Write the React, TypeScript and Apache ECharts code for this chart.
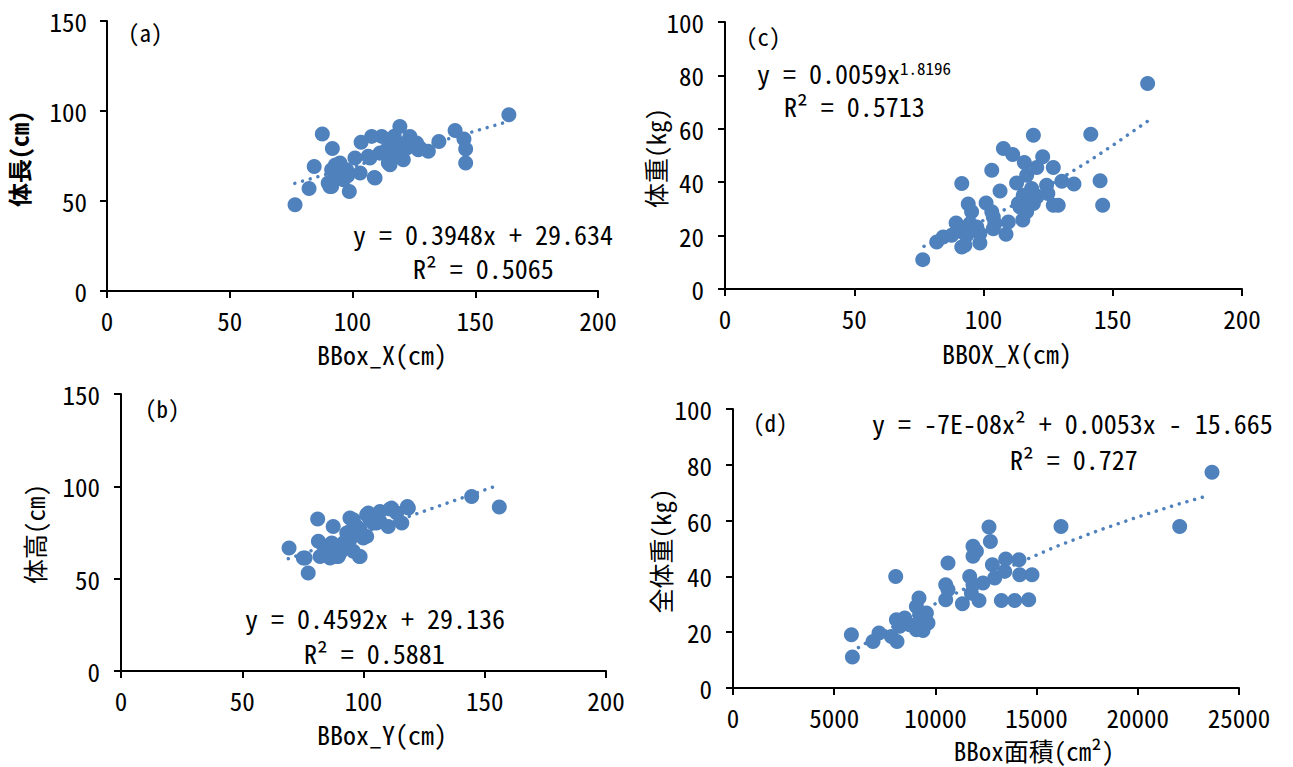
import React, { useEffect, useRef } from 'react';
import * as echarts from 'echarts';

// ---------- data ----------
// (a) BBox_X (cm) vs 体長 (cm)
const aPoints: number[][] = [
  [76.6, 47.9], [82.3, 57.0], [84.4, 69.1], [87.7, 87.2], [91.8, 79.1], [163.7, 97.9],
  [119.3, 91.4], [141.8, 89.2], [145.4, 84.4], [146.1, 78.9], [146.1, 71.1], [135.2, 83.1],
  [98.7, 55.3], [108.9, 63.1], [103.5, 82.6], [107.8, 85.9], [111.9, 85.9], [115.3, 70.2],
  [120.7, 72.9], [123.4, 85.9], [127.5, 79.4], [130.9, 77.6], [103.1, 65.6], [90.8, 58.1],
  [96.3, 67.4], [101.0, 73.9], [106.4, 74.8], [93.6, 63.7], [115.3, 83.1], [122.1, 79.4],
  [126.8, 78.5], [119.3, 74.8], [114.6, 71.1], [107.1, 73.9], [109.2, 62.8], [94.9, 71.1],
  [91.5, 67.4], [90.1, 60.0], [91.5, 58.1], [96.3, 61.8], [97.6, 67.4], [111.2, 76.7],
  [113.9, 78.5], [116.6, 76.7], [126.1, 82.2], [118.0, 80.0], [121.0, 82.0], [117.0, 86.0],
  [95.0, 65.0], [98.0, 64.0], [93.0, 70.0],
];
const aTrend: number[][] = [[76.5, 59.8], [164, 94.4]];

// (b) BBox_Y (cm) vs 体高 (cm)
const bPoints: number[][] = [
  [69.3, 66.6], [75.2, 61.2], [77.2, 53.1], [81.1, 82.3], [87.5, 78.3], [81.4, 70.2],
  [144.6, 94.5], [156.0, 88.8], [98.3, 62.0], [118.5, 88.2], [115.8, 80.1], [110.2, 78.3],
  [111.6, 88.2], [106.8, 86.4], [102.0, 85.5], [94.4, 82.8], [99.9, 72.0], [93.1, 74.7],
  [86.9, 69.3], [89.6, 62.0], [86.2, 61.2], [82.1, 62.0], [95.8, 75.6], [105.4, 80.1],
  [97.2, 78.3], [91.7, 67.5], [94.4, 71.1], [102.7, 81.9], [113.7, 85.5], [84.1, 65.7],
  [75.9, 61.2], [83.4, 63.0], [88.9, 62.0], [98.6, 62.0], [86.2, 68.4], [91.7, 69.3],
  [94.4, 75.6], [95.8, 81.9], [101.3, 84.6], [110.9, 87.7], [118.1, 89.1], [101.3, 72.9],
  [104.0, 80.1], [98.6, 76.5], [106.8, 81.0], [90.3, 63.9], [95.8, 64.8],
];
const bTrend: number[][] = [[69, 60.8], [156, 100.8]];

// (c) BBOX_X (cm) vs 体重 (kg)
const cPoints: number[][] = [
  [163.5, 77.0], [76.5, 11.0], [119.3, 57.6], [141.5, 58.0], [107.7, 52.6], [111.3, 50.4],
  [122.9, 49.5], [115.8, 47.4], [127.0, 45.5], [103.2, 44.5], [120.6, 45.5], [116.7, 42.6],
  [91.6, 39.5], [106.4, 36.7], [112.8, 39.7], [130.3, 40.4], [135.0, 39.3], [145.1, 40.5],
  [146.1, 31.4], [127.0, 31.4], [128.9, 31.4], [119.3, 32.0], [113.5, 32.0], [124.4, 38.9],
  [118.6, 37.6], [115.4, 35.1], [101.0, 32.2], [94.1, 31.8], [95.4, 28.9], [103.8, 27.0],
  [104.4, 24.5], [109.6, 25.1], [115.2, 25.8], [108.7, 20.5], [103.8, 22.6], [89.4, 24.7],
  [94.8, 24.5], [97.4, 23.2], [91.6, 21.4], [98.6, 17.2], [92.8, 16.4], [91.6, 15.7],
  [81.9, 17.6], [84.4, 19.5], [87.7, 20.1], [93.5, 20.1], [116.7, 28.9], [120.6, 34.5],
  [98.6, 20.8], [103.2, 28.9], [114.1, 30.7], [124.9, 35.8],
];
const cTrend: number[][] = [
  [77, 16.0], [90, 21.2], [100, 25.7], [110, 30.6], [120, 35.8], [130, 41.5],
  [140, 47.4], [150, 53.8], [164, 63.2],
];

// (d) BBox面積 (cm²) vs 全体重 (kg)
const dPoints: number[][] = [
  [23666, 77.3], [22070, 57.9], [16206, 57.9], [5899, 11.1], [5850, 19.1], [8039, 40.0],
  [12648, 57.7], [12717, 52.5], [11858, 50.8], [12026, 49.0], [11858, 47.2], [10623, 44.8],
  [12816, 44.2], [13473, 46.2], [14130, 46.0], [13424, 41.8], [14165, 40.6], [14773, 40.6],
  [12930, 39.4], [11695, 40.0], [12352, 37.6], [11858, 37.0], [10509, 37.0], [10623, 35.2],
  [10509, 31.6], [11334, 30.2], [12154, 31.4], [13261, 31.4], [13918, 31.4], [14610, 31.6],
  [11779, 34.0], [9190, 32.3], [9061, 29.2], [9555, 26.9], [9634, 23.3], [9224, 23.3],
  [9061, 20.9], [9387, 20.6], [8483, 25.1], [8073, 24.5], [8236, 22.1], [8730, 22.7],
  [7826, 18.5], [8103, 16.7], [7213, 19.7], [6917, 16.7], [9224, 26.3],
];
const dTrend: number[][] = [
  [6200, 14.5], [8000, 22.3], [10000, 30.2], [12000, 37.6], [14000, 44.5], [16000, 50.8],
  [18000, 56.3], [20000, 61.3], [22000, 65.9], [23400, 68.8],
];

const xTicks = { ab: { min: 0, max: 200, interval: 50 }, c: { min: 0, max: 200, interval: 50 }, d: { min: 0, max: 25000, interval: 5000 } };
const yTicks = { ab: { min: 0, max: 150, interval: 50 }, cd: { min: 0, max: 100, interval: 20 } };

// ---------- styling ----------
const FONT = "'Noto Sans Mono CJK JP', 'Noto Sans CJK JP', sans-serif";
const BLUE = '#4F81BD';

function label(margin: number) {
  return {
    color: '#000',
    fontSize: 25,
    fontFamily: FONT,
    margin,
    formatter: (v: number) => String(v),
  };
}

function axisCommon(extra: any) {
  return {
    type: 'value',
    axisLine: { show: true, onZero: false, lineStyle: { color: '#000', width: 2 } },
    axisTick: { show: true, length: 7, lineStyle: { color: '#000', width: 2 } },
    splitLine: { show: false },
    ...extra,
  };
}

function txt(text: string, x: number, y: number, opts: any = {}) {
  const { size = 26, weight = 'normal', align = 'left', rotation = 0, rich } = opts;
  return {
    type: 'text',
    x,
    y,
    rotation,
    style: {
      text,
      fill: '#000',
      font: `${weight} ${size}px ${FONT}`,
      fontSize: size,
      fontFamily: FONT,
      fontWeight: weight,
      lineHeight: size,
      align,
      verticalAlign: 'middle',
      textAlign: align,
      textVerticalAlign: 'middle',
      rich,
    },
  };
}

function buildOption() {
  const grids = [
    { left: 107, top: 21, width: 491, height: 270 }, // a
    { left: 725, top: 22, width: 517, height: 267 }, // c
    { left: 121, top: 394, width: 485, height: 277 }, // b
    { left: 733, top: 409, width: 506, height: 279 }, // d
  ];
  const xAxes = [
    axisCommon({ gridIndex: 0, ...xTicks.ab, axisLabel: label(16) }),
    axisCommon({ gridIndex: 1, ...xTicks.c, axisLabel: label(16) }),
    axisCommon({ gridIndex: 2, ...xTicks.ab, axisLabel: label(16) }),
    axisCommon({ gridIndex: 3, ...xTicks.d, axisLabel: label(16) }),
  ];
  const yAxes = [
    axisCommon({ gridIndex: 0, ...yTicks.ab, axisLabel: label(20) }),
    axisCommon({ gridIndex: 1, ...yTicks.cd, axisLabel: label(21) }),
    axisCommon({ gridIndex: 2, ...yTicks.ab, axisLabel: label(21) }),
    axisCommon({ gridIndex: 3, ...yTicks.cd, axisLabel: label(21) }),
  ];
  const sets = [
    [aPoints, aTrend],
    [cPoints, cTrend],
    [bPoints, bTrend],
    [dPoints, dTrend],
  ];
  const series: any[] = [];
  sets.forEach(([pts, trend], i) => {
    series.push({
      type: 'scatter',
      xAxisIndex: i,
      yAxisIndex: i,
      data: pts,
      symbol: 'circle',
      symbolSize: 15,
      itemStyle: { color: BLUE, opacity: 1 },
      z: 2,
    });
    series.push({
      type: 'line',
      xAxisIndex: i,
      yAxisIndex: i,
      data: trend,
      showSymbol: false,
      symbol: 'none',
      smooth: false,
      lineStyle: { color: BLUE, width: 3.5, type: [0.01, 8], cap: 'round' },
      z: 3,
    });
  });

  const rot = Math.PI / 2;
  const graphic = [
    // panel tags
    txt('(a)', 128, 32, { size: 23 }),
    txt('(c)', 746, 36, { size: 23 }),
    txt('(b)', 145, 408, { size: 23 }),
    txt('(d)', 753, 422, { size: 23 }),
    // equations
    txt('y = 0.3948x + 29.634', 353, 233),
    txt('R² = 0.5065', 413, 267),
    txt('{n|y = 0.0059x}{s|1.8196}', 757, 72, {
      rich: {
        n: { fontSize: 26, fontFamily: FONT, fill: '#000', color: '#000' },
        s: { fontSize: 17, fontFamily: FONT, fill: '#000', color: '#000', verticalAlign: 'top', padding: [0, 0, 12, 0] },
      },
    }),
    txt('R² = 0.5713', 784, 105),
    txt('y = 0.4592x + 29.136', 245, 617),
    txt('R² = 0.5881', 304, 652),
    txt('y = -7E-08x² + 0.0053x - 15.665', 872, 422),
    txt('R² = 0.727', 1010, 458),
    // axis titles
    txt('体長(cm)', 18, 159, { size: 24, weight: 'bold', align: 'center', rotation: rot }),
    txt('体重(kg)', 655, 158, { size: 25, align: 'center', rotation: rot }),
    txt('体高(cm)', 34, 534, { size: 25, align: 'center', rotation: rot }),
    txt('全体重(kg)', 660, 551, { size: 25, align: 'center', rotation: rot }),
    txt('BBox_X(cm)', 382, 353, { size: 26, align: 'center' }),
    txt('BBOX_X(cm)', 1007, 352, { size: 26, align: 'center' }),
    txt('BBox_Y(cm)', 382, 733, { size: 26, align: 'center' }),
    txt('BBox面積(cm²)', 1034, 750, { size: 25, align: 'center' }),
  ];

  return {
    animation: false,
    backgroundColor: '#fff',
    grid: grids,
    xAxis: xAxes,
    yAxis: yAxes,
    series,
    graphic,
  };
}

export default function App() {
  const ref = useRef<HTMLDivElement>(null);
  useEffect(() => {
    if (!ref.current) return;
    const chart = echarts.init(ref.current, null, { renderer: 'svg' });
    chart.setOption(buildOption() as any);
    return () => chart.dispose();
  }, []);
  return (
    <div
      ref={ref}
      style={{ position: 'fixed', left: 0, top: 0, width: 1293, height: 767, background: '#fff' }}
    />
  );
}
